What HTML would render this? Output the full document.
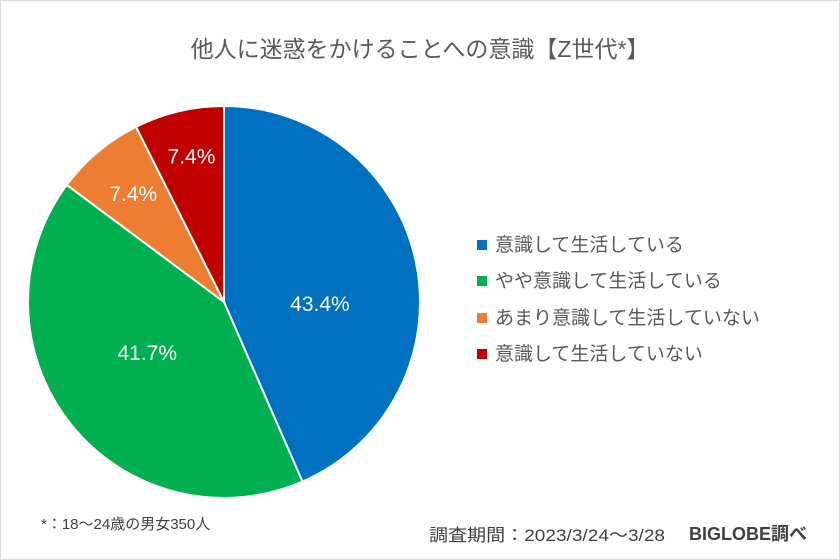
<!DOCTYPE html>
<html><head><meta charset="utf-8"><style>
body{margin:0;background:#fff;}
#wrap{position:relative;width:838px;height:558px;border:1px solid #d9d9d9;background:#fff;font-family:"Liberation Sans","Noto Sans CJK JP",sans-serif;overflow:hidden;}
.t{position:absolute;white-space:nowrap;color:#595959;}
</style></head><body>
<div id="wrap">
<div class="t" style="left:0;width:838px;text-align:center;top:29px;font-size:23px;">他人に迷惑をかけることへの意識【Z世代*】</div>
<svg id="pie" width="840" height="560" style="position:absolute;left:0;top:0"></svg>
<div id="legend"></div>
<div class="t" style="left:40px;top:512px;font-size:15px;color:#404040">*：18～24歳の男女350人</div>
<div class="t" style="left:428px;top:520px;font-size:17px;color:#404040;transform:scaleX(1.12);transform-origin:left">調査期間：2023/3/24～3/28</div>
<div class="t" style="left:688px;top:519px;font-size:18px;font-weight:bold;color:#404040">BIGLOBE調べ</div>
</div>
<script>
const categories=["意識して生活している","やや意識して生活している","あまり意識して生活していない","意識して生活していない"];
const values=[43.4,41.7,7.4,7.4];
const colors=["#0070c0","#00b050","#ed7d31","#c00000"];
const svg=document.getElementById('pie');
const NS="http://www.w3.org/2000/svg";
const cx=223,cy=301,r=196;
const total=values.reduce((a,b)=>a+b,0);
let a0=0;
function pt(a,rr){return [cx+rr*Math.sin(a),cy-rr*Math.cos(a)];}
values.forEach((v,i)=>{
  const a1=a0+v/total*2*Math.PI;
  const p0=pt(a0,r),p1=pt(a1,r);
  const large=(a1-a0)>Math.PI?1:0;
  const path=document.createElementNS(NS,'path');
  path.setAttribute('d',`M${cx},${cy}L${p0[0]},${p0[1]}A${r},${r} 0 ${large} 1 ${p1[0]},${p1[1]}Z`);
  path.setAttribute('fill',colors[i]);path.setAttribute('stroke','#fff');path.setAttribute('stroke-width','2');
  
  
  svg.appendChild(path);
  const am=(a0+a1)/2;const lr=v>20?r*0.5:r*0.72;
  const lp=pt(am,lr);
  const dy=v>20?(i===0?22:-10):(i===3?-8:0);
  const t=document.createElementNS(NS,'text');
  t.setAttribute('x',lp[0]);t.setAttribute('y',lp[1]+7+dy);
  t.setAttribute('text-anchor','middle');t.setAttribute('fill','#fff');
  t.setAttribute('font-size','21');t.setAttribute('font-family','"Liberation Sans",sans-serif');
  t.textContent=v.toFixed(1)+'%';
  
  
  svg.appendChild(t);
  a0=a1;
});
const lg=document.getElementById('legend');
categories.forEach((c,i)=>{
  const d=document.createElement('div');
  d.className='t';d.style.left='476px';d.style.top=(229+i*36.3)+'px';d.style.fontSize='19px';
  d.innerHTML=`<span style="display:inline-block;width:10px;height:10px;background:${colors[i]};margin-right:8px;vertical-align:1px"></span>${c}`;
  
  
  lg.appendChild(d);
});
</script>
</body></html>
